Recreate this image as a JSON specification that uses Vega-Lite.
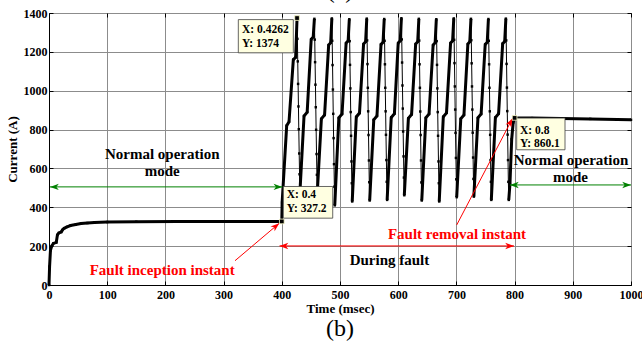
{
"$schema":"https://vega.github.io/schema/vega-lite/v6.json",
"width":582,"height":272,
"autosize":"none",
"padding":{"left":49,"top":13,"right":11,"bottom":63},
"background":"white",
"title":{"text":"(b)","orient":"bottom","anchor":"middle","fontSize":24,"fontWeight":"normal","font":"Liberation Serif","color":"black","offset":2},
"datasets":{
"wave":[
{"t":0,"i":0,"p":"r","c":0},{"t":1,"i":95,"p":"r","c":0},{"t":2.5,"i":178,"p":"r","c":0},{"t":4.6,"i":200,"p":"r","c":0},{"t":7.5,"i":214,"p":"r","c":0},{"t":12.5,"i":219,"p":"r","c":0},{"t":14.5,"i":258,"p":"r","c":0},{"t":17,"i":268,"p":"r","c":0},{"t":21,"i":273,"p":"r","c":0},{"t":23,"i":283,"p":"r","c":0},{"t":26,"i":292,"p":"r","c":0},{"t":31,"i":299,"p":"r","c":0},{"t":37,"i":306,"p":"r","c":0},{"t":46,"i":311,"p":"r","c":0},{"t":55,"i":316,"p":"r","c":0},{"t":66,"i":319,"p":"r","c":0},{"t":78,"i":322,"p":"r","c":0},{"t":100,"i":324,"p":"r","c":0},{"t":150,"i":325.5,"p":"r","c":0},{"t":220,"i":326.5,"p":"r","c":0},{"t":300,"i":327,"p":"r","c":0},{"t":400,"i":327.2,"p":"r","c":0},{"t":400.6,"i":425,"p":"r","c":0},{"t":408.4,"i":820,"p":"r","c":0},{"t":412.4,"i":840,"p":"r","c":0},{"t":419.8,"i":1160,"p":"r","c":0},{"t":423.8,"i":1172,"p":"r","c":0},{"t":426.2,"i":1374,"p":"r","c":0},
{"t":426.8,"i":1267,"p":"f"},{"t":427.4,"i":1151,"p":"f"},{"t":428,"i":1035,"p":"f"},{"t":428.6,"i":919,"p":"f"},{"t":429.2,"i":802,"p":"f"},{"t":429.9,"i":677,"p":"f"},{"t":430.5,"i":570,"p":"f"},
{"t":431.2,"i":481,"p":"r","c":1},{"t":438.2,"i":870,"p":"r","c":1},{"t":443.6,"i":890,"p":"r","c":1},{"t":450.5,"i":1265,"p":"r","c":1},{"t":454,"i":1277,"p":"r","c":1},{"t":456,"i":1370,"p":"r","c":1},
{"t":456.6,"i":1263,"p":"f"},{"t":457.2,"i":1147,"p":"f"},{"t":457.8,"i":1031,"p":"f"},{"t":458.4,"i":915,"p":"f"},{"t":459,"i":799,"p":"f"},{"t":459.7,"i":674,"p":"f"},{"t":460.3,"i":567,"p":"f"},
{"t":461,"i":478,"p":"r","c":2},{"t":468,"i":855,"p":"r","c":2},{"t":473.5,"i":875,"p":"r","c":2},{"t":480.5,"i":1235,"p":"r","c":2},{"t":484,"i":1247,"p":"r","c":2},{"t":486,"i":1372,"p":"r","c":2},
{"t":486.6,"i":1257,"p":"f"},{"t":487.2,"i":1132,"p":"f"},{"t":487.8,"i":1006,"p":"f"},{"t":488.4,"i":881,"p":"f"},{"t":489,"i":756,"p":"f"},{"t":489.7,"i":622,"p":"f"},{"t":490.3,"i":506,"p":"f"},
{"t":491,"i":410,"p":"r","c":3},{"t":498,"i":860,"p":"r","c":3},{"t":503.5,"i":880,"p":"r","c":3},{"t":510.5,"i":1245,"p":"r","c":3},{"t":514,"i":1257,"p":"r","c":3},{"t":516,"i":1368,"p":"r","c":3},
{"t":516.6,"i":1255,"p":"f"},{"t":517.2,"i":1133,"p":"f"},{"t":517.8,"i":1012,"p":"f"},{"t":518.4,"i":890,"p":"f"},{"t":519,"i":768,"p":"f"},{"t":519.7,"i":636,"p":"f"},{"t":520.3,"i":524,"p":"f"},
{"t":521,"i":430,"p":"r","c":4},{"t":528,"i":865,"p":"r","c":4},{"t":533.5,"i":885,"p":"r","c":4},{"t":540.5,"i":1240,"p":"r","c":4},{"t":544,"i":1252,"p":"r","c":4},{"t":546,"i":1371,"p":"r","c":4},
{"t":546.6,"i":1259,"p":"f"},{"t":547.2,"i":1137,"p":"f"},{"t":547.8,"i":1015,"p":"f"},{"t":548.4,"i":894,"p":"f"},{"t":549,"i":772,"p":"f"},{"t":549.7,"i":641,"p":"f"},{"t":550.3,"i":529,"p":"f"},
{"t":551,"i":435,"p":"r","c":5},{"t":558,"i":850,"p":"r","c":5},{"t":563.5,"i":870,"p":"r","c":5},{"t":570.5,"i":1238,"p":"r","c":5},{"t":574,"i":1250,"p":"r","c":5},{"t":576,"i":1369,"p":"r","c":5},
{"t":576.6,"i":1257,"p":"f"},{"t":577.2,"i":1136,"p":"f"},{"t":577.8,"i":1015,"p":"f"},{"t":578.4,"i":894,"p":"f"},{"t":579,"i":773,"p":"f"},{"t":579.7,"i":643,"p":"f"},{"t":580.3,"i":531,"p":"f"},
{"t":581,"i":438,"p":"r","c":6},{"t":588,"i":862,"p":"r","c":6},{"t":593.5,"i":882,"p":"r","c":6},{"t":600,"i":1245,"p":"r","c":6},{"t":603.5,"i":1257,"p":"r","c":6},{"t":605.5,"i":1373,"p":"r","c":6},
{"t":606.1,"i":1264,"p":"f"},{"t":606.7,"i":1145,"p":"f"},{"t":607.3,"i":1027,"p":"f"},{"t":607.9,"i":908,"p":"f"},{"t":608.5,"i":790,"p":"f"},{"t":609.2,"i":662,"p":"f"},{"t":609.8,"i":553,"p":"f"},
{"t":610.5,"i":462,"p":"r","c":7},{"t":617.5,"i":858,"p":"r","c":7},{"t":623,"i":878,"p":"r","c":7},{"t":630,"i":1240,"p":"r","c":7},{"t":633.5,"i":1252,"p":"r","c":7},{"t":635.5,"i":1370,"p":"r","c":7},
{"t":636.1,"i":1258,"p":"f"},{"t":636.7,"i":1136,"p":"f"},{"t":637.3,"i":1015,"p":"f"},{"t":637.9,"i":893,"p":"f"},{"t":638.5,"i":772,"p":"f"},{"t":639.2,"i":641,"p":"f"},{"t":639.8,"i":528,"p":"f"},
{"t":640.5,"i":435,"p":"r","c":8},{"t":647.5,"i":860,"p":"r","c":8},{"t":653,"i":880,"p":"r","c":8},{"t":660,"i":1235,"p":"r","c":8},{"t":663.5,"i":1247,"p":"r","c":8},{"t":665.5,"i":1368,"p":"r","c":8},
{"t":666.1,"i":1255,"p":"f"},{"t":666.7,"i":1133,"p":"f"},{"t":667.3,"i":1012,"p":"f"},{"t":667.9,"i":890,"p":"f"},{"t":668.5,"i":768,"p":"f"},{"t":669.2,"i":636,"p":"f"},{"t":669.8,"i":524,"p":"f"},
{"t":670.5,"i":430,"p":"r","c":9},{"t":677.5,"i":866,"p":"r","c":9},{"t":683,"i":886,"p":"r","c":9},{"t":690,"i":1245,"p":"r","c":9},{"t":693.5,"i":1257,"p":"r","c":9},{"t":695.5,"i":1372,"p":"r","c":9},
{"t":696.1,"i":1262,"p":"f"},{"t":696.7,"i":1142,"p":"f"},{"t":697.3,"i":1022,"p":"f"},{"t":697.9,"i":903,"p":"f"},{"t":698.5,"i":783,"p":"f"},{"t":699.2,"i":654,"p":"f"},{"t":699.8,"i":544,"p":"f"},
{"t":700.5,"i":452,"p":"r","c":10},{"t":707.5,"i":855,"p":"r","c":10},{"t":713,"i":875,"p":"r","c":10},{"t":719.7,"i":1240,"p":"r","c":10},{"t":723,"i":1252,"p":"r","c":10},{"t":725,"i":1370,"p":"r","c":10},
{"t":725.6,"i":1260,"p":"f"},{"t":726.2,"i":1141,"p":"f"},{"t":726.8,"i":1022,"p":"f"},{"t":727.4,"i":903,"p":"f"},{"t":728,"i":784,"p":"f"},{"t":728.7,"i":656,"p":"f"},{"t":729.3,"i":546,"p":"f"},
{"t":730,"i":455,"p":"r","c":11},{"t":737,"i":860,"p":"r","c":11},{"t":742.5,"i":880,"p":"r","c":11},{"t":749.5,"i":1238,"p":"r","c":11},{"t":753,"i":1250,"p":"r","c":11},{"t":755,"i":1369,"p":"r","c":11},
{"t":755.6,"i":1257,"p":"f"},{"t":756.2,"i":1136,"p":"f"},{"t":756.8,"i":1015,"p":"f"},{"t":757.4,"i":894,"p":"f"},{"t":758,"i":773,"p":"f"},{"t":758.7,"i":643,"p":"f"},{"t":759.3,"i":531,"p":"f"},
{"t":760,"i":438,"p":"r","c":12},{"t":767,"i":862,"p":"r","c":12},{"t":772.5,"i":882,"p":"r","c":12},{"t":779.5,"i":1242,"p":"r","c":12},{"t":783,"i":1254,"p":"r","c":12},{"t":785,"i":1371,"p":"r","c":12},
{"t":785.6,"i":1259,"p":"f"},{"t":786.2,"i":1138,"p":"f"},{"t":786.8,"i":1016,"p":"f"},{"t":787.4,"i":895,"p":"f"},{"t":788,"i":774,"p":"f"},{"t":788.7,"i":643,"p":"f"},{"t":789.3,"i":531,"p":"f"},
{"t":790,"i":438,"p":"r","c":13},{"t":792,"i":520,"p":"r","c":13},{"t":795,"i":750,"p":"r","c":13},{"t":797.5,"i":835,"p":"r","c":13},{"t":800,"i":860.1,"p":"r","c":13},{"t":830,"i":859,"p":"r","c":13},{"t":880,"i":857,"p":"r","c":13},{"t":930,"i":855,"p":"r","c":13},{"t":1000,"i":850,"p":"r","c":13}
],
"garrow":[{"x":1.7,"x2":401,"y":505},{"x":792,"x2":1000,"y":515}],
"gleft":[{"x":1.7,"y":505},{"x":792,"y":515}],
"gright":[{"x":401,"y":505},{"x":1000,"y":515}],
"rarrow":[{"x":396,"x2":799,"y":201,"y2":201},{"x":319.6,"x2":395.7,"y":125,"y2":318},{"x":700.5,"x2":796.5,"y":309,"y2":858}],
"rleft":[{"x":396,"y":201}],
"rright":[{"x":799,"y":201}],
"rinc":[{"x":395.7,"y":318}],
"rrem":[{"x":796.5,"y":858}],
"btext":[{"x":194.5,"y":675,"s":"Normal operation"},{"x":194.5,"y":586,"s":"mode"},{"x":897,"y":644,"s":"Normal operation"},{"x":896,"y":558,"s":"mode"},{"x":585,"y":129,"s":"During fault"}],
"rtext":[{"x":194.5,"y":76,"s":"Fault inception instant"},{"x":701,"y":263,"s":"Fault removal instant"}],
"tipbox":[{"x":325.3,"x2":419.8,"y":1195,"y2":1366},{"x":402.6,"x2":487.5,"y":344,"y2":507},{"x":803.6,"x2":886.6,"y":696,"y2":859}],
"tiptext":[{"x":331.6,"y":1310,"s":"X: 0.4262"},{"x":331.6,"y":1241,"s":"Y: 1374"},{"x":408.4,"y":464,"s":"X: 0.4"},{"x":408.4,"y":392,"s":"Y: 327.2"},{"x":809.3,"y":795,"s":"X: 0.8"},{"x":809.3,"y":727,"s":"Y: 860.1"}],
"tipmark":[{"x":426.2,"y":1374},{"x":400,"y":327.2},{"x":800,"y":860.1}],
"top":[{"x":500,"y":1475,"s":"(a)"}]
},
"resolve":{"axis":{"x":"independent","y":"independent"}},
"layer":[
{"data":{"name":"wave"},"mark":{"type":"line","color":"black","strokeWidth":1},
 "encoding":{
  "x":{"field":"t","type":"quantitative","scale":{"domain":[0,1000],"nice":false},
   "axis":{"orient":"bottom","grid":true,"format":"d","values":[0,100,200,300,400,500,600,700,800,900,1000],"title":"Time (msec)","labelPadding":8,"titlePadding":2}},
  "y":{"field":"i","type":"quantitative","scale":{"domain":[0,1400],"nice":false,"zero":false},
   "axis":{"orient":"left","grid":true,"format":"d","values":[0,200,400,600,800,1000,1200,1400],"title":"Current (A)","labelPadding":6,"titlePadding":4}}}},
{"data":{"values":[{"x":0,"y":0}]},"mark":{"type":"point","opacity":0},
 "encoding":{
  "x":{"field":"x","type":"quantitative","axis":{"orient":"top","grid":false,"labels":false,"domain":false,"title":null,"values":[0,100,200,300,400,500,600,700,800,900,1000]}},
  "y":{"field":"y","type":"quantitative","axis":{"orient":"right","grid":false,"labels":false,"domain":false,"title":null,"values":[0,200,400,600,800,1000,1200,1400]}}}},
{"data":{"name":"wave"},"mark":{"type":"point","shape":"square","filled":true,"color":"black","size":6,"opacity":1},
 "encoding":{"x":{"field":"t","type":"quantitative","axis":null},"y":{"field":"i","type":"quantitative","axis":null}}},
{"data":{"name":"wave"},"transform":[{"filter":"datum.p == 'r'"}],"mark":{"type":"line","color":"black","strokeWidth":3},
 "encoding":{"x":{"field":"t","type":"quantitative","axis":null},"y":{"field":"i","type":"quantitative","axis":null},"detail":{"field":"c","type":"nominal"}}},
{"data":{"name":"garrow"},"mark":{"type":"rule","color":"#008000","strokeWidth":1},
 "encoding":{"x":{"field":"x","type":"quantitative","axis":null},"x2":{"field":"x2"},"y":{"field":"y","type":"quantitative","axis":null}}},
{"data":{"name":"gleft"},"mark":{"type":"point","shape":"M0,0L-0.8,2.2L0,1.6L0.8,2.2Z","filled":true,"color":"#008000","size":64,"angle":270,"opacity":1},
 "encoding":{"x":{"field":"x","type":"quantitative","axis":null},"y":{"field":"y","type":"quantitative","axis":null}}},
{"data":{"name":"gright"},"mark":{"type":"point","shape":"M0,0L-0.8,2.2L0,1.6L0.8,2.2Z","filled":true,"color":"#008000","size":64,"angle":90,"opacity":1},
 "encoding":{"x":{"field":"x","type":"quantitative","axis":null},"y":{"field":"y","type":"quantitative","axis":null}}},
{"data":{"name":"rarrow"},"mark":{"type":"rule","color":"#ff0000","strokeWidth":1},
 "encoding":{"x":{"field":"x","type":"quantitative","axis":null},"x2":{"field":"x2"},"y":{"field":"y","type":"quantitative","axis":null},"y2":{"field":"y2"}}},
{"data":{"name":"rleft"},"mark":{"type":"point","shape":"M0,0L-0.8,2.2L0,1.6L0.8,2.2Z","filled":true,"color":"#ff0000","size":64,"angle":270,"opacity":1},
 "encoding":{"x":{"field":"x","type":"quantitative","axis":null},"y":{"field":"y","type":"quantitative","axis":null}}},
{"data":{"name":"rright"},"mark":{"type":"point","shape":"M0,0L-0.8,2.2L0,1.6L0.8,2.2Z","filled":true,"color":"#ff0000","size":64,"angle":90,"opacity":1},
 "encoding":{"x":{"field":"x","type":"quantitative","axis":null},"y":{"field":"y","type":"quantitative","axis":null}}},
{"data":{"name":"rinc"},"mark":{"type":"point","shape":"M0,0L-0.8,2.2L0,1.6L0.8,2.2Z","filled":true,"color":"#ff0000","size":64,"angle":50,"opacity":1},
 "encoding":{"x":{"field":"x","type":"quantitative","axis":null},"y":{"field":"y","type":"quantitative","axis":null}}},
{"data":{"name":"rrem"},"mark":{"type":"point","shape":"M0,0L-0.8,2.2L0,1.6L0.8,2.2Z","filled":true,"color":"#ff0000","size":64,"angle":28,"opacity":1},
 "encoding":{"x":{"field":"x","type":"quantitative","axis":null},"y":{"field":"y","type":"quantitative","axis":null}}},
{"data":{"name":"btext"},"mark":{"type":"text","font":"Liberation Serif","fontWeight":"bold","fontSize":15,"color":"black","align":"center","baseline":"middle"},
 "encoding":{"x":{"field":"x","type":"quantitative","axis":null},"y":{"field":"y","type":"quantitative","axis":null},"text":{"field":"s"}}},
{"data":{"name":"rtext"},"mark":{"type":"text","font":"Liberation Serif","fontWeight":"bold","fontSize":15,"color":"#ff0000","align":"center","baseline":"middle"},
 "encoding":{"x":{"field":"x","type":"quantitative","axis":null},"y":{"field":"y","type":"quantitative","axis":null},"text":{"field":"s"}}},
{"data":{"name":"tipbox"},"mark":{"type":"rect","fill":"#ffffe1","stroke":"#404040","strokeWidth":0.8},
 "encoding":{"x":{"field":"x","type":"quantitative","axis":null},"x2":{"field":"x2"},"y":{"field":"y","type":"quantitative","axis":null},"y2":{"field":"y2"}}},
{"data":{"name":"tiptext"},"mark":{"type":"text","font":"Liberation Serif","fontWeight":"bold","fontSize":11.5,"color":"black","align":"left","baseline":"middle"},
 "encoding":{"x":{"field":"x","type":"quantitative","axis":null},"y":{"field":"y","type":"quantitative","axis":null},"text":{"field":"s"}}},
{"data":{"name":"tipmark"},"mark":{"type":"point","shape":"square","filled":true,"fill":"black","stroke":"#ffffcc","strokeWidth":0.8,"size":22,"opacity":1},
 "encoding":{"x":{"field":"x","type":"quantitative","axis":null},"y":{"field":"y","type":"quantitative","axis":null}}},
{"data":{"name":"top"},"mark":{"type":"text","font":"Liberation Serif","fontWeight":"normal","fontSize":24,"color":"black","align":"center","baseline":"alphabetic"},
 "encoding":{"x":{"field":"x","type":"quantitative","axis":null},"y":{"field":"y","type":"quantitative","axis":null},"text":{"field":"s"}}}
],
"config":{
 "view":{"stroke":"black","strokeWidth":1},
 "axis":{"domainColor":"black","tickColor":"black","tickSize":-4,"tickWidth":1,"labelFont":"Liberation Serif","labelFontWeight":"bold","labelFontSize":12,"labelColor":"black","titleFont":"Liberation Serif","titleFontWeight":"bold","titleFontSize":13,"titleColor":"black","gridColor":"#8c8c8c","gridWidth":1,"gridOpacity":1,"labelFlush":false,"labelOverlap":false}
}
}
